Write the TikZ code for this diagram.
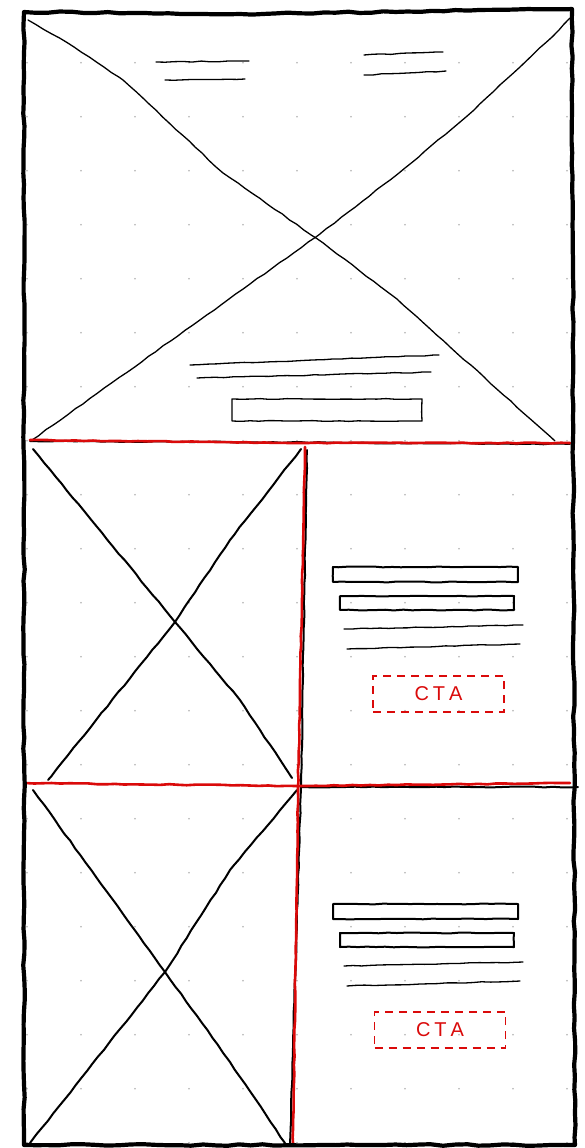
\documentclass[tikz,border=0pt]{standalone}
\usepackage{fontspec}
\newfontfamily\ctafont{Liberation Sans}
\usetikzlibrary{decorations.pathmorphing}
\definecolor{sred}{RGB}{218,10,10}
\definecolor{dotc}{RGB}{175,175,175}
\newcommand{\ctatext}{C\hspace{4pt}T\hspace{4pt}A}
\begin{document}
\begin{tikzpicture}[x=1pt,y=-1pt,
  sk/.style={decorate,decoration={random steps,segment length=9pt,amplitude=0.45pt},line join=round,line cap=round},
  frame/.style={sk,draw=black,line width=4.2pt,decoration={random steps,segment length=12pt,amplitude=0.8pt}},
  ink/.style={sk,draw=black,line width=2pt},
  fine/.style={sk,draw=black,line width=1.3pt},
  redline/.style={sk,draw=sred,line width=2.6pt},
  ctabox/.style={draw=sred,line width=1.2pt,dash pattern=on 8pt off 6pt,minimum width=131pt,minimum height=36pt,inner sep=0pt,text=sred,font=\ctafont\fontsize{20}{20}\selectfont},
  dotstyle/.style={fill=dotc}]
\pgfmathsetseed{7}
\useasboundingbox (0,0) rectangle (584,1148);
\fill[white] (0,0) rectangle (584,1148);
% dot grid
\foreach \i in {0,...,10}{\foreach \j in {1,...,21}{\fill[dotstyle] (27+54*\i,8.7+54*\j) circle (0.9pt);}}
% ---------- section 1 ----------
\draw[fine] (28,20) -- (74,47) -- (123,80) -- (223,173) -- (316,238) -- (397,299) -- (555,441);
\draw[fine] (570,18) -- (559,30) -- (466,117) -- (405,168) -- (316,237) -- (229,299) -- (32,440);
\draw[fine] (156,62) -- (249,61);
\draw[fine] (165,80) -- (245,79);
\draw[fine] (364,55) -- (443,52);
\draw[fine] (364,75) -- (446,71);
\draw[fine] (190,365) -- (439,355);
\draw[fine] (197,378) -- (431,372);
\draw[fine] (232,399) rectangle (422,421);
% ---------- section 2 ----------
\draw[ink] (33,449) -- (175,622) -- (240,700) -- (292,778);
\draw[ink] (301,449) -- (230,540) -- (175,622) -- (48,780);
\draw[ink] (333,567) rectangle (518,582);
\draw[ink] (340,596) rectangle (514,610);
\draw[fine] (344,629) -- (523,625);
\draw[fine] (347,649) -- (520,644);
\node[ctabox] (cta1) at (438.5,694) {\ctatext};
% ---------- section 3 ----------
\draw[ink] (33,790) -- (165,972) -- (230,1062) -- (285,1143);
\draw[ink] (297,790) -- (230,870) -- (165,972) -- (30,1143);
\draw[ink] (333,904) rectangle (518,919);
\draw[ink] (340,933) rectangle (514,947);
\draw[fine] (344,966) -- (523,962);
\draw[fine] (347,986) -- (520,981);
\node[ctabox] (cta2) at (440,1030) {\ctatext};
% ---------- dividers ----------
\draw[ink] (307,450) -- (301,786) -- (290,1143);
\draw[ink] (301,787) -- (578,787);
\draw[ink] (30,441) -- (570,444);
\draw[redline] (30,440) -- (300,443) -- (570,443);
\draw[redline] (25,783) -- (298,786) -- (570,783);
\draw[redline] (305,447) -- (298,786) -- (293,1143);
% ---------- outer frame ----------
\draw[frame] (24,12) -- (240,14) -- (572,9) -- (575,1145) -- (24,1145) -- cycle;
\end{tikzpicture}
\end{document}
